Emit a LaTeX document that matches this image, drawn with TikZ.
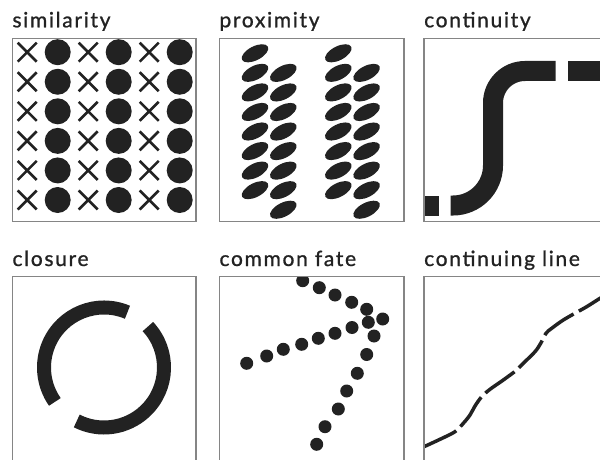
\documentclass[tikz,border=0pt]{standalone}
\usepackage{fontspec}
\setmainfont{Lato}[LetterSpace=8, FakeBold=1]
\usetikzlibrary{positioning}
\definecolor{gestInk}{HTML}{222222}
\definecolor{gestGray}{HTML}{858585}
\tikzset{
  gestFrame/.style={draw=gestGray, line width=1.4pt},
  gestLabel/.style={
    anchor=base west,
    inner sep=0pt,
    text=gestInk,
    font=\fontsize{21}{25}\selectfont
  },
  gestCross/.style={draw=gestInk, line width=2.6pt},
  gestBar/.style={draw=gestInk, line width=20pt},
  gestRing/.style={draw=gestInk, line width=14pt},
  gestWave/.style={draw=gestInk, line width=3.5pt, dash pattern=on 36pt off 6pt}
}

\begin{document}
\begin{tikzpicture}[x=1pt, y=-1pt]
  \useasboundingbox (0,0) rectangle (600,460);

  % labels
  \node[gestLabel] (simLabel) at (12.3,27.3) {similarity};
  \node[gestLabel] (proxLabel) at (219.3,27.3) {proximity};
  \node[gestLabel] (contLabel) at (424,27.3) {continuity};
  \node[gestLabel] (closLabel) at (12.3,266) {closure};
  \node[gestLabel] (fateLabel) at (219.3,266) {common fate};
  \node[gestLabel] (lineLabel) at (424,266) {continuing line};

  % similarity
  \begin{scope}
    \clip (12.3,38.3) rectangle (196,221.7);
    \foreach \r in {0,...,5} {
      \foreach \c in {0,1,2} {
        \draw[gestCross] ({27.2+61*\c},{52.2+29.56*\r}) ++(-9.5,-9.5) -- ++(19,19) ++(0,-19) -- ++(-19,19);
        \fill[gestInk] ({57.7+61*\c},{52.2+29.56*\r}) circle[radius=13];
      }
    }
  \end{scope}
  \draw[gestFrame] (12.3,38.3) rectangle (196,221.7);

  % proximity
  \begin{scope}
    \clip (219.3,38.3) rectangle (404,221.7);
    \foreach \gx in {255,338.3} {
      \foreach \k in {0,...,7} {
        \fill[gestInk] (\gx,{53.3+19.55*\k}) circle[x radius=14.5pt, y radius=7pt, rotate=27];
        \fill[gestInk] ({\gx+28.3},{72.9+19.55*\k}) circle[x radius=14.5pt, y radius=7pt, rotate=27];
      }
    }
  \end{scope}
  \draw[gestFrame] (219.3,38.3) rectangle (404,221.7);

  % continuity
  \begin{scope}
    \clip (424,38.3) rectangle (620,221.7);
    \draw[gestBar] (415,205.5) -- (439.3,205.5);
    \draw[gestBar] (450.7,205.5) -- (453,205.5)
      .. controls (475.1,205.5) and (493,187.6) .. (493,165.5)
      -- (493,103)
      .. controls (493,85.3) and (507.3,71) .. (525,71)
      -- (555.7,71);
    \draw[gestBar] (568.3,71) -- (615,71);
  \end{scope}
  \draw[gestFrame] (424,38.3) rectangle (620,221.7);

  % closure
  \begin{scope}
    \clip (12.3,276.7) rectangle (196,480);
    \draw[gestRing] (104,367.5) ++(-67:60) arc[start angle=-67, end angle=-215, radius=60];
    \draw[gestRing] (104,367.5) ++(-43:60) arc[start angle=-43, end angle=117, radius=60];
  \end{scope}
  \draw[gestFrame] (12.3,276.7) rectangle (196,480);

  % common fate
  \begin{scope}
    \clip (219.3,276.7) rectangle (404,480);
    \foreach \p in {(302.7,280.7),(319.3,287.7),(335,295),(351.7,302.3),(366.7,309.3),(382.7,319),
                    (246.7,363.3),(266.7,356),(283.3,349.3),(301.7,344.3),(318.3,338.3),(335,333.3),(352,327.5),(368.3,322.3),
                    (374,336),(366.7,354.5),(357.3,373.3),(346.7,391),(338.3,409),(325,426.7),(316.7,444.3)}
      \fill[gestInk] \p circle[radius=6.5];
  \end{scope}
  \draw[gestFrame] (219.3,276.7) rectangle (404,480);

  % continuing line
  \begin{scope}
    \clip (424,276.7) rectangle (620,480);
    \draw[gestWave] plot[smooth, tension=0.55] coordinates {
      (424,446.7) (440,439.3) (455,431.7) (463.3,423.3) (470,415) (475,406)
      (481.7,396.7) (490,389.3) (503.3,380) (516.7,370) (523.3,363.3)
      (535,351.7) (540.7,343.3) (546,333.3) (551.7,328.3) (563.3,320)
      (576.7,312.3) (586.7,306.7) (600,298.3) (612,291)};
  \end{scope}
  \draw[gestFrame] (424,276.7) rectangle (620,480);
\end{tikzpicture}
\end{document}
